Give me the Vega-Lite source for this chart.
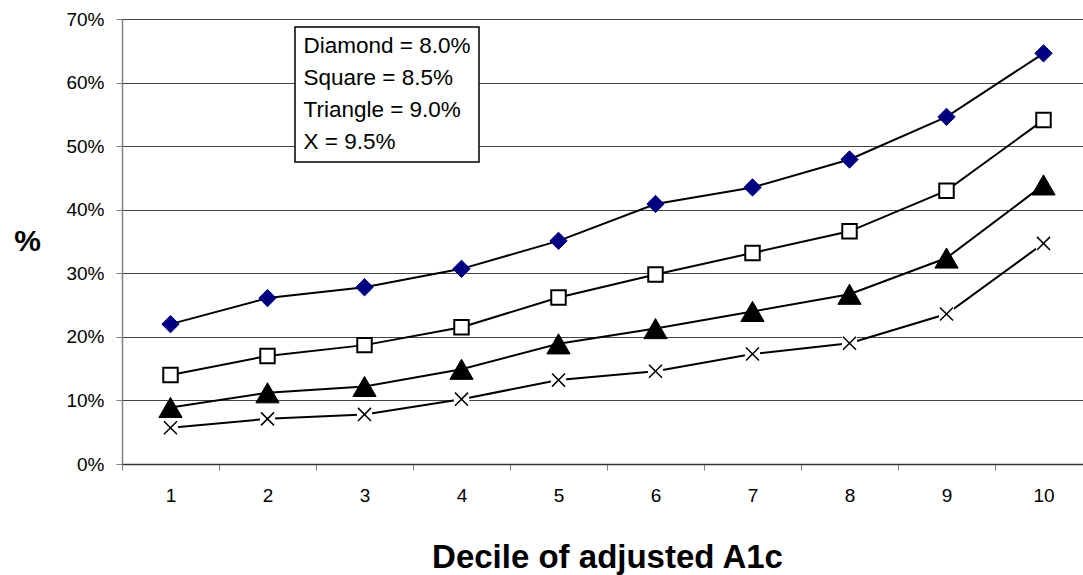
{
  "$schema": "https://vega.github.io/schema/vega-lite/v6.json",
  "autosize": {"type": "none"},
  "padding": {"left": 122, "top": 19, "right": 0, "bottom": 111},
  "width": 961,
  "height": 445,
  "background": "white",
  "config": {
    "view": {"stroke": null},
    "font": "Liberation Sans",
    "axis": {"labelFont": "Liberation Sans", "titleFont": "Liberation Sans", "labelColor": "black", "titleColor": "black"}
  },
  "data": {
    "values": [
      {"decile": "1", "series": "Diamond = 8.0%", "value": 22.0},
      {"decile": "2", "series": "Diamond = 8.0%", "value": 26.1},
      {"decile": "3", "series": "Diamond = 8.0%", "value": 27.8},
      {"decile": "4", "series": "Diamond = 8.0%", "value": 30.7},
      {"decile": "5", "series": "Diamond = 8.0%", "value": 35.1},
      {"decile": "6", "series": "Diamond = 8.0%", "value": 40.9},
      {"decile": "7", "series": "Diamond = 8.0%", "value": 43.5},
      {"decile": "8", "series": "Diamond = 8.0%", "value": 47.9},
      {"decile": "9", "series": "Diamond = 8.0%", "value": 54.6},
      {"decile": "10", "series": "Diamond = 8.0%", "value": 64.6},
      {"decile": "1", "series": "Square = 8.5%", "value": 14.0},
      {"decile": "2", "series": "Square = 8.5%", "value": 17.0},
      {"decile": "3", "series": "Square = 8.5%", "value": 18.7},
      {"decile": "4", "series": "Square = 8.5%", "value": 21.5},
      {"decile": "5", "series": "Square = 8.5%", "value": 26.2},
      {"decile": "6", "series": "Square = 8.5%", "value": 29.8},
      {"decile": "7", "series": "Square = 8.5%", "value": 33.2},
      {"decile": "8", "series": "Square = 8.5%", "value": 36.6},
      {"decile": "9", "series": "Square = 8.5%", "value": 43.0},
      {"decile": "10", "series": "Square = 8.5%", "value": 54.1},
      {"decile": "1", "series": "Triangle = 9.0%", "value": 8.9},
      {"decile": "2", "series": "Triangle = 9.0%", "value": 11.2},
      {"decile": "3", "series": "Triangle = 9.0%", "value": 12.2},
      {"decile": "4", "series": "Triangle = 9.0%", "value": 14.9},
      {"decile": "5", "series": "Triangle = 9.0%", "value": 18.9},
      {"decile": "6", "series": "Triangle = 9.0%", "value": 21.3},
      {"decile": "7", "series": "Triangle = 9.0%", "value": 24.0},
      {"decile": "8", "series": "Triangle = 9.0%", "value": 26.7},
      {"decile": "9", "series": "Triangle = 9.0%", "value": 32.4},
      {"decile": "10", "series": "Triangle = 9.0%", "value": 43.9},
      {"decile": "1", "series": "X = 9.5%", "value": 5.7},
      {"decile": "2", "series": "X = 9.5%", "value": 7.1},
      {"decile": "3", "series": "X = 9.5%", "value": 7.8},
      {"decile": "4", "series": "X = 9.5%", "value": 10.2},
      {"decile": "5", "series": "X = 9.5%", "value": 13.2},
      {"decile": "6", "series": "X = 9.5%", "value": 14.6},
      {"decile": "7", "series": "X = 9.5%", "value": 17.3},
      {"decile": "8", "series": "X = 9.5%", "value": 19.0},
      {"decile": "9", "series": "X = 9.5%", "value": 23.6},
      {"decile": "10", "series": "X = 9.5%", "value": 34.7}
    ]
  },
  "encoding": {
    "x": {
      "field": "decile",
      "type": "ordinal",
      "sort": ["1","2","3","4","5","6","7","8","9","10"],
      "scale": {"type": "band", "range": [0, 970], "paddingInner": 0, "paddingOuter": 0},
      "axis": {
        "title": "Decile of adjusted A1c",
        "titleFontSize": 33,
        "titleFontWeight": "bold",
        "titlePadding": 36,
        "titleX": 485,
        "labelAngle": 0,
        "labelFontSize": 19,
        "labelPadding": 16,
        "tickBand": "extent",
        "tickSize": 6,
        "tickColor": "#808080",
        "domainColor": "#333333",
        "domainWidth": 1.5,
        "grid": false
      }
    },
    "y": {
      "field": "value",
      "type": "quantitative",
      "scale": {"domain": [0, 70], "nice": false},
      "axis": {
        "values": [0, 10, 20, 30, 40, 50, 60, 70],
        "labelExpr": "datum.value + '%'",
        "labelFontSize": 19,
        "labelPadding": 12,
        "tickSize": 6,
        "tickColor": "#808080",
        "domainColor": "#808080",
        "domainWidth": 1.5,
        "grid": true,
        "gridColor": "#444444",
        "gridWidth": 1,
        "title": "%",
        "titleAngle": 0,
        "titleFontSize": 30,
        "titleFontWeight": "bold",
        "titleAlign": "center",
        "titleBaseline": "middle",
        "titleX": -95,
        "titleY": 222
      }
    }
  },
  "layer": [
    {
      "mark": {"type": "line", "strokeWidth": 2},
      "encoding": {
        "color": {
          "field": "series",
          "type": "nominal",
          "scale": {"domain": ["Diamond = 8.0%", "Square = 8.5%", "Triangle = 9.0%", "X = 9.5%"], "range": ["black", "black", "black", "black"]},
          "legend": {
            "orient": "none",
            "legendX": 173,
            "legendY": 8,
            "title": null,
            "labelFontSize": 22.5,
            "labelFont": "Liberation Sans",
            "labelColor": "black",
            "symbolType": "circle",
            "symbolOpacity": 0,
            "symbolSize": 1,
            "symbolStrokeWidth": 0,
            "labelOffset": -22,
            "rowPadding": 9,
            "padding": 8,
            "strokeColor": "black",
            "fillColor": "white",
            "labelLimit": 400,
            "encode": {"legend": {"update": {"strokeWidth": {"value": 1.5}}}}
          }
        }
      }
    },
    {
      "transform": [{"filter": "datum.series === 'Diamond = 8.0%'"}],
      "mark": {"type": "point", "shape": "diamond", "filled": true, "fill": "#000080", "stroke": "#000080", "strokeWidth": 1, "size": 300, "opacity": 1}
    },
    {
      "transform": [{"filter": "datum.series === 'Square = 8.5%'"}],
      "mark": {"type": "point", "shape": "square", "filled": true, "fill": "white", "stroke": "black", "strokeWidth": 2, "size": 210, "opacity": 1}
    },
    {
      "transform": [{"filter": "datum.series === 'Triangle = 9.0%'"}],
      "mark": {"type": "point", "shape": "triangle-up", "filled": true, "fill": "black", "stroke": "black", "strokeWidth": 1, "size": 540, "opacity": 1}
    },
    {
      "transform": [{"filter": "datum.series === 'X = 9.5%'"}],
      "mark": {"type": "point", "shape": "square", "filled": true, "fill": "white", "strokeWidth": 0, "size": 230, "opacity": 1}
    },
    {
      "transform": [{"filter": "datum.series === 'X = 9.5%'"}],
      "mark": {"type": "point", "shape": "M-1,-1L1,1M1,-1L-1,1", "filled": false, "stroke": "black", "strokeWidth": 1.5, "size": 170, "opacity": 1}
    }
  ]
}
